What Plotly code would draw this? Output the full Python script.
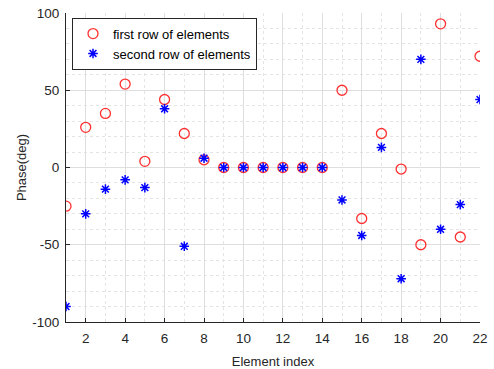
import plotly.graph_objects as go

element_index = list(range(1, 23))
first_row = [-25, 26, 35, 54, 4, 44, 22, 5, 0, 0, 0, 0, 0, 0, 50, -33, 22, -1, -50, 93, -45, 72]
second_row = [-90, -30, -14, -8, -13, 38, -51, 6, 0, 0, 0, 0, 0, 0, -21, -44, 13, -72, 70, -40, -24, 44]
x_ticks = [2, 4, 6, 8, 10, 12, 14, 16, 18, 20, 22]
y_ticks = [-100, -50, 0, 50, 100]
y_tick_labels = ["-100", "-50", "0", "50", "100"]

fig = go.Figure()
fig.add_trace(go.Scatter(
    x=element_index, y=first_row, mode="markers", name="first row of elements",
    marker=dict(symbol="circle-open", size=10, color="#ff3030", line=dict(width=1.3)),
))
fig.add_trace(go.Scatter(
    x=element_index, y=second_row, mode="markers", name="second row of elements",
    marker=dict(symbol="asterisk-open", size=8, color="#0000ff", line=dict(width=1.5, color="#0000ff")),
))

font = "Liberation Sans, Arial, sans-serif"
axis_common = dict(
    showline=True, linecolor="#262626", linewidth=1,
    ticks="inside", ticklen=4, tickcolor="#262626",
    showgrid=True, gridcolor="#dedede", gridwidth=1,
    zeroline=False, mirror=False, automargin=False,
    tickfont=dict(family=font, size=13.5, color="#262626"),
)

fig.update_layout(
    width=494, height=369,
    margin=dict(l=66, r=14, t=13, b=47),
    paper_bgcolor="white", plot_bgcolor="white",
    font=dict(family=font, color="#262626"),
    xaxis=dict(
        range=[1, 22], tickvals=x_ticks, ticklabelstandoff=4,
        minor=dict(dtick=1, showgrid=True, gridcolor="#e4e4e4", griddash="dot", ticks=""),
        title=dict(text="Element index", font=dict(family=font, size=13, color="#262626"), standoff=12),
        **axis_common,
    ),
    yaxis=dict(
        range=[-100, 100], tickvals=y_ticks, ticktext=y_tick_labels, ticklabelstandoff=3,
        minor=dict(dtick=10, showgrid=True, gridcolor="#e4e4e4", griddash="dot", ticks=""),
        title=dict(text="Phase(deg)", font=dict(family=font, size=13, color="#262626"), standoff=2),
        **axis_common,
    ),
    legend=dict(
        x=0.0145, y=0.985, xanchor="left", yanchor="top",
        bgcolor="white", bordercolor="#262626", borderwidth=1,
        font=dict(family=font, size=13, color="#000000"),
        tracegroupgap=0, itemsizing="trace",
    ),
    showlegend=True,
)

fig.write_html(
    "out.html",
    config={"displayModeBar": False},
    post_script="document.body.style.margin='0';document.body.style.padding='0';",
)
